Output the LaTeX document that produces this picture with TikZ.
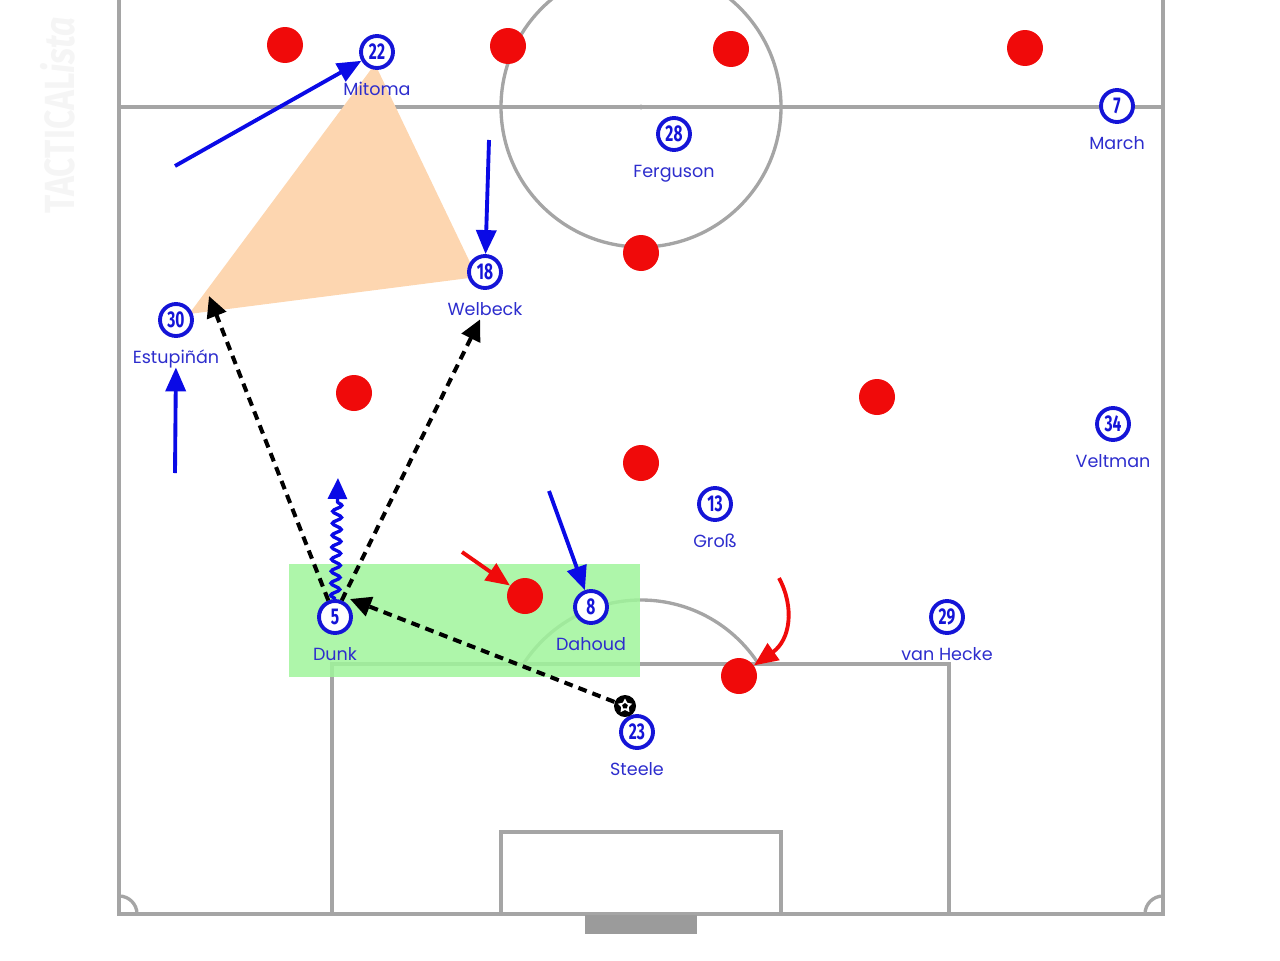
\documentclass[tikz,border=0pt]{standalone}
\usepackage{fontspec}
\setmainfont{Poppins}
\newfontfamily\numberfont{Fira Sans}
\usetikzlibrary{positioning,arrows.meta,decorations.pathmorphing,shapes.geometric}
\definecolor{playerBlue}{RGB}{20,20,215}
\definecolor{nameBlue}{RGB}{45,45,205}
\definecolor{runBlue}{RGB}{10,10,230}
\definecolor{oppRed}{RGB}{240,10,10}
\definecolor{pitchGray}{RGB}{165,165,165}
\definecolor{goalGray}{RGB}{155,155,155}
\definecolor{zoneGreen}{RGB}{160,245,155}
\definecolor{spaceOrange}{RGB}{253,214,176}

\begin{document}
\begin{tikzpicture}[x=0.02cm,y=-0.02cm]
	%defines
	\tikzstyle{player} = [circle, draw=playerBlue, line width=2.2pt, fill=white, minimum size=0.64cm, inner sep=0pt, text=playerBlue, font=\numberfont\bfseries\fontsize{13}{13}\selectfont]
	\tikzstyle{playerName} = [text=nameBlue, font=\fontsize{10}{11}\selectfont, inner sep=0pt, text height=1.6ex, text depth=0.4ex]
	\tikzstyle{opponent} = [circle, fill=oppRed, minimum size=0.72cm, inner sep=0pt]
	\tikzstyle{pitch} = [draw=pitchGray, line width=1.9pt]
	\tikzstyle{run} = [line width=2.2pt, draw=runBlue, -{Triangle[length=0.48cm,width=0.4cm]}]
	\tikzstyle{press} = [line width=2.2pt, draw=oppRed, -{Triangle[length=0.48cm,width=0.4cm]}]
	\tikzstyle{pass} = [line width=2.3pt, dash pattern=on 5pt off 3.5pt, -{Triangle[length=0.42cm,width=0.4cm]}]
	\tikzstyle{dribble} = [line width=1.9pt, draw=runBlue, decorate, decoration={snake, amplitude=0.09cm, segment length=0.24cm, post length=0.4cm}, -{Triangle[length=0.42cm,width=0.38cm]}]
	\useasboundingbox (0,0) rectangle (1280,960);
	%watermark
	\node (watermark) [rotate=90, text=black!4, font=\numberfont\bfseries\fontsize{24}{24}\selectfont] at (58,115) {\scalebox{0.8}[1]{TACTICAL\textit{ista}}};
	%pitch
	\draw [pitch] (119,-5) -- (119,914) -- (1163,914) -- (1163,-5);
	\draw [pitch] (119,107) -- (1163,107);
	\draw [pitch] (641,107) circle (140);
	\fill [pitchGray] (641,107) circle (2.5);
	\draw [pitch] (332,914) -- (332,664) -- (949,664) -- (949,914);
	\draw [pitch] (501,914) -- (501,832) -- (781,832) -- (781,914);
	\begin{scope}
		\clip (119,0) rectangle (1163,664);
		\draw [pitch] (641,740) circle (140);
	\end{scope}
	\begin{scope}
		\clip (119,0) rectangle (1163,914);
		\draw [pitch] (119,914) circle (18);
		\draw [pitch] (1163,914) circle (18);
	\end{scope}
	\fill [goalGray] (585,915) rectangle (697,934);
	%space and zone
	\fill [spaceOrange] (375,64) -- (477,277) -- (189,314) -- cycle;
	\fill [zoneGreen, fill opacity=0.85] (289,564) rectangle (640,677);
	%players
	\node (mitoma) [player] at (377,52) {\scalebox{0.68}[1]{22}};
	\node (march) [player] at (1117,106) {\scalebox{0.68}[1]{7}};
	\node (ferguson) [player] at (674,134) {\scalebox{0.68}[1]{28}};
	\node (welbeck) [player] at (485,272) {\scalebox{0.68}[1]{18}};
	\node (estupinan) [player] at (176,320) {\scalebox{0.68}[1]{30}};
	\node (veltman) [player] at (1113,424) {\scalebox{0.68}[1]{34}};
	\node (gross) [player] at (715,504) {\scalebox{0.68}[1]{13}};
	\node (vanHecke) [player] at (947,617) {\scalebox{0.68}[1]{29}};
	\node (dunk) [player] at (335,617) {\scalebox{0.68}[1]{5}};
	\node (dahoud) [player] at (591,607) {\scalebox{0.68}[1]{8}};
	\node (steele) [player] at (637,732) {\scalebox{0.68}[1]{23}};
	\node (mitomaName) [playerName, below=0.19cm of mitoma] {Mitoma};
	\node (marchName) [playerName, below=0.19cm of march] {March};
	\node (fergusonName) [playerName, below=0.19cm of ferguson] {Ferguson};
	\node (welbeckName) [playerName, below=0.19cm of welbeck] {Welbeck};
	\node (estupinanName) [playerName, below=0.19cm of estupinan] {Estupiñán};
	\node (veltmanName) [playerName, below=0.19cm of veltman] {Veltman};
	\node (grossName) [playerName, below=0.19cm of gross] {Groß};
	\node (vanHeckeName) [playerName, below=0.19cm of vanHecke] {van Hecke};
	\node (dunkName) [playerName, below=0.19cm of dunk] {Dunk};
	\node (dahoudName) [playerName, below=0.19cm of dahoud] {Dahoud};
	\node (steeleName) [playerName, below=0.19cm of steele] {Steele};
	%opponents
	\foreach \x/\y/\n in {285/45/oppOne, 508/46/oppTwo, 731/49/oppThree, 1025/48/oppFour, 641/253/oppFive, 354/393/oppSix, 877/397/oppSeven, 641/463/oppEight, 525/596/oppNine, 739/676/oppTen}
		\node (\n) [opponent] at (\x,\y) {};
	%ball
	\node (ball) [circle, fill=black, minimum size=0.44cm, inner sep=0pt] at (625,706) {};
	\node (ballStar) [star, star points=5, star point ratio=1.9, fill=white, minimum size=0.3cm, inner sep=0pt] at (ball) {};
	\node (ballPatch) [regular polygon, regular polygon sides=5, fill=black, minimum size=0.12cm, inner sep=0pt] at (ball) {};
	%runs
	\coordinate (mitomaRun) at (175,166);
	\coordinate (welbeckRun) at (489,140);
	\coordinate (estupinanRun) at (175,473);
	\coordinate (dahoudRun) at (549,491);
	\coordinate (dunkCarry) at (338,478);
	\draw [run] (mitomaRun) -- (mitoma);
	\draw [run] (welbeckRun) -- (welbeck);
	\draw [run] (estupinanRun) -- (estupinanName);
	\draw [run] (dahoudRun) -- (dahoud);
	\draw [dribble] (dunk.north) -- (dunkCarry);
	%pressing
	\coordinate (pressStart) at (462,552);
	\coordinate (pressCurve) at (779,578);
	\draw [press] (pressStart) -- (oppNine);
	\draw [press] (pressCurve) .. controls (795,608) and (790,640) .. (oppTen);
	%passes
	\coordinate (estupinanSpace) at (209,296);
	\coordinate (dunkTouch) at (350,599);
	\draw [pass] (ball) -- (dunkTouch);
	\draw [pass] (dunk.112) -- (estupinanSpace);
	\draw [pass] (dunk.68) -- (welbeckName);
\end{tikzpicture}
\end{document}
